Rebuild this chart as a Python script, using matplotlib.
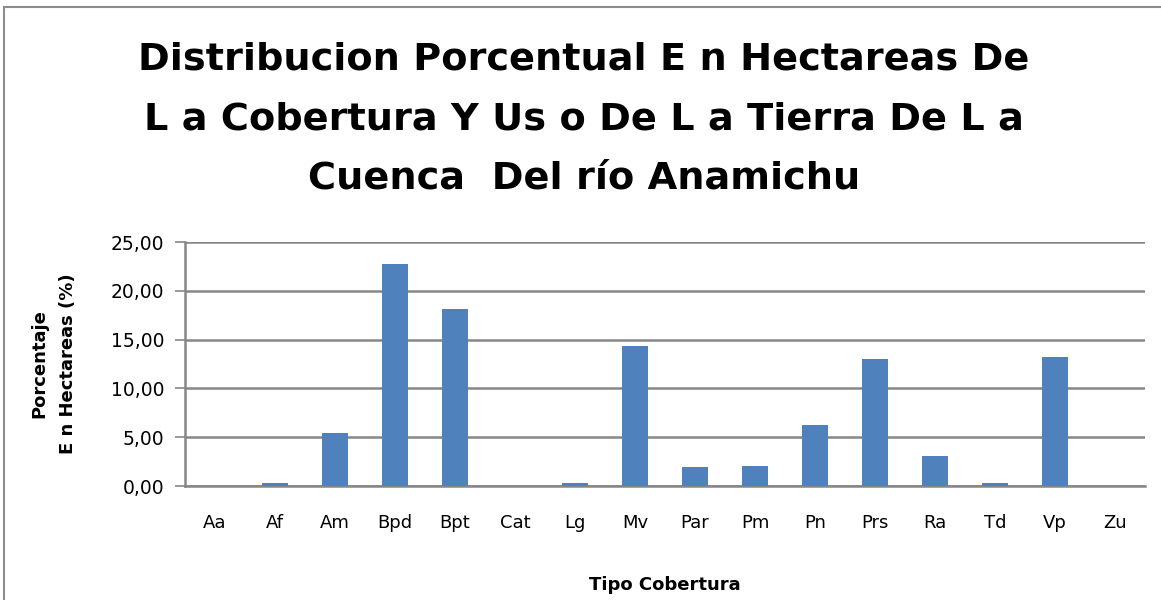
import numpy as np
import matplotlib.pyplot as plt
from matplotlib.patches import Rectangle
from matplotlib.ticker import FuncFormatter

categorias = ["Aa", "Af", "Am", "Bpd", "Bpt", "Cat", "Lg", "Mv",
              "Par", "Pm", "Pn", "Prs", "Ra", "Td", "Vp", "Zu"]
porcentaje = [0.0, 0.3, 5.4, 22.7, 18.1, 0.0, 0.3, 14.3,
              1.9, 2.0, 6.25, 13.0, 3.1, 0.3, 13.2, 0.0]
yticks = [0, 5, 10, 15, 20, 25]

titulo = ("Distribucion Porcentual E n Hectareas De\n"
          "L a Cobertura Y Us o De L a Tierra De L a\n"
          "Cuenca  Del río Anamichu")

plt.rcParams['font.family'] = ['DejaVu Sans']

fig = plt.figure(figsize=(11.61, 6), dpi=100)

# marco del grafico
fig.patches.append(Rectangle((4 / 1161, -0.1), 1.2, 1 - 7 / 600 + 0.1,
                             transform=fig.transFigure, fill=False,
                             edgecolor='#8c8c8c', linewidth=1.5))

ax = fig.add_axes([185 / 1161, 1 - 486 / 600, 960 / 1161, 244 / 600])
x = np.arange(len(categorias))
ax.bar(x, porcentaje, width=0.43, color='#4F81BD', zorder=3)

ax.set_xlim(-0.5, len(categorias) - 0.5)
ax.set_ylim(0, 25)
ax.set_yticks(yticks)
ax.yaxis.set_major_formatter(FuncFormatter(lambda v, p: f"{v:.2f}".replace('.', ',')))
ax.set_xticks(x)
ax.set_xticklabels(categorias)
ax.grid(axis='y', color='#868686', linewidth=1.8, zorder=0)

for s in ['top', 'right']:
    ax.spines[s].set_visible(False)
ax.spines['left'].set_color('#868686')
ax.spines['left'].set_linewidth(1.8)
ax.spines['bottom'].set_color('#868686')
ax.spines['bottom'].set_linewidth(1.8)
ax.tick_params(axis='y', length=7, width=1.2, color='#868686', labelsize=13.5, pad=8)
ax.tick_params(axis='x', length=0, labelsize=13, pad=20)

ax.set_ylabel("Porcentaje\nE n Hectareas (%)", fontsize=13, fontweight='bold',
              linespacing=1.8)
ax.yaxis.set_label_coords(-0.112, 0.5)
ax.set_xlabel("Tipo Cobertura", fontsize=13, fontweight='bold')
ax.xaxis.set_label_coords(0.5, -0.37)

fig.text(0.503, 1 - 119 / 600, titulo, ha='center', va='center',
         fontsize=27.5, fontweight='bold', linespacing=1.85)

fig.savefig("out.png", dpi=100)
